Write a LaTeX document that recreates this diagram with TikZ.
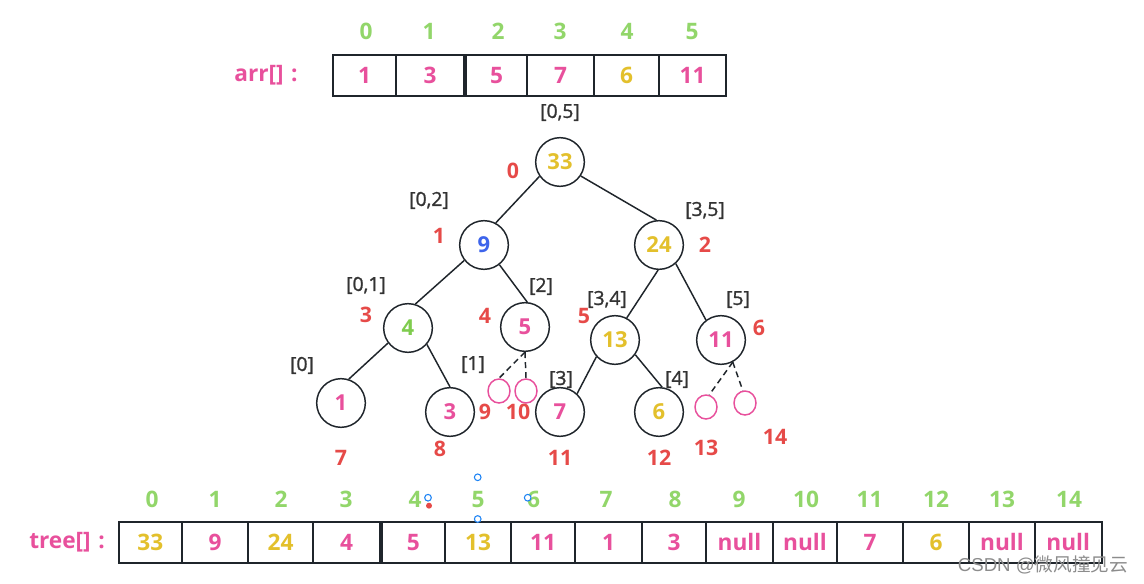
\documentclass[tikz,border=0pt]{standalone}
\usepackage{fontspec}
\setmainfont{Open Sans}
\newfontfamily\cjk{Noto Sans CJK SC}
\newfontfamily\wmfont{Liberation Sans}
\newfontfamily\rngfont{Open Sans}[FakeBold=1.3]
\usetikzlibrary{shapes.geometric}
\definecolor{cpink}{HTML}{E8509C}
\definecolor{cgreen}{HTML}{92D66A}
\definecolor{cgreenb}{HTML}{7FCC4E}
\definecolor{cyellow}{HTML}{E3C02C}
\definecolor{cred}{HTML}{E64A48}
\definecolor{cblue}{HTML}{3D64EB}
\definecolor{cline}{HTML}{1F252B}
\definecolor{cgray}{HTML}{333333}
\definecolor{chandle}{HTML}{1E84F5}
\definecolor{cwm}{HTML}{8C8C8C}
\newcommand\mycell[7]{\node[cellbox, minimum width={(#3-#2)*0.75pt}, minimum height={(#5-#4)*0.75pt}, text=#6] (#1) at ({(#2+#3)/2},{(#4+#5)/2}) {#7};}
\begin{document}
\begin{tikzpicture}[x=0.75pt,y=-0.75pt,
  idx/.style={font=\fontsize{17}{17}\selectfont\bfseries, text=cgreen, text height=12.1pt, text depth=0pt, inner sep=0pt},
  cellbox/.style={draw=cline, line width=1.5pt, inner sep=0pt, font=\fontsize{17}{17}\selectfont\bfseries, text height=12.1pt, text depth=0pt},
  arrlab/.style={font=\fontsize{17}{17}\selectfont\bfseries, text=cpink, inner sep=0pt},
  tnode/.style={circle, draw=cline, line width=1.1pt, minimum size=36.5pt, inner sep=0pt, font=\fontsize{16.5}{16.5}\selectfont\bfseries, text height=11.8pt, text depth=0pt},
  smallc/.style={ellipse, draw=cpink, line width=1.1pt, minimum width=16.5pt, minimum height=18pt, inner sep=0pt},
  redl/.style={font=\fontsize{16}{16}\selectfont\bfseries, text=cred, text height=11.4pt, text depth=0pt, inner sep=0pt},
  rng/.style={font=\fontsize{14.5}{14.5}\selectfont\rngfont, text=cgray, text height=10.4pt, text depth=0pt, inner sep=0pt},
  edge/.style={draw=cline, line width=1.1pt},
  dedge/.style={draw=cline, line width=1.1pt, dash pattern=on 4.5pt off 3pt},
  handle/.style={circle, draw=chandle, fill=white, line width=0.8pt, minimum size=5pt, inner sep=0pt},
  reddot/.style={circle, fill=cred, minimum size=4.5pt, inner sep=0pt}
]
\useasboundingbox[fill=white] (0,0) rectangle (1144,584);

% ---- top array ----
\node[arrlab] (arrl) at (266,75) {arr[]\,\,:};
\node[idx] (ai0) at (366,31) {0};
\node[idx] (ai1) at (429,31) {1};
\node[idx] (ai2) at (498,31) {2};
\node[idx] (ai3) at (560,31) {3};
\node[idx] (ai4) at (627,31) {4};
\node[idx] (ai5) at (692,31) {5};
\mycell{a0}{333}{396}{55}{96}{cpink}{1}
\mycell{a1}{396}{464}{55}{96}{cpink}{3}
\mycell{a2}{466}{527}{55}{96}{cpink}{5}
\mycell{a3}{527}{594}{55}{96}{cpink}{7}
\mycell{a4}{594}{659}{55}{96}{cyellow}{6}
\mycell{a5}{659}{726}{55}{96}{cpink}{11}

% ---- tree ----
\node[tnode, text=cyellow] (n33) at (560,162) {33};
\node[tnode, text=cblue] (n9) at (484,245) {9};
\node[tnode, text=cyellow] (n24) at (659,245) {24};
\node[tnode, text=cgreenb] (n4) at (408,328) {4};
\node[tnode, text=cpink] (n5) at (525,327) {5};
\node[tnode, text=cyellow] (n13) at (615,340) {13};
\node[tnode, text=cpink] (n11) at (721,340) {11};
\node[tnode, text=cpink] (n1) at (341,403) {1};
\node[tnode, text=cpink] (n3) at (450,412) {3};
\node[tnode, text=cpink] (n7) at (560,412) {7};
\node[tnode, text=cyellow] (n6) at (659,412) {6};
\node[smallc] (s9) at (499,391) {};
\node[smallc] (s10) at (526,391) {};
\node[smallc] (s13) at (706,407) {};
\node[smallc] (s14) at (745,403) {};

\draw[edge] (n33.215) -- (n9.62);
\draw[edge] (n33.-34) -- (n24.96);
\draw[edge] (n9.218) -- (n4.73);
\draw[edge] (n9.-52) -- (n5.85);
\draw[edge] (n24.-92) -- (n13.62);
\draw[edge] (n24.-48) -- (n11.127);
\draw[edge] (n4.217) -- (n1.72);
\draw[edge] (n4.-41) -- (n3.90);
\draw[edge] (n13.222) -- (n7.47);
\draw[edge] (n13.-36) -- (n6.83);
\draw[dedge] (n5.south) -- (s9.north);
\draw[dedge] (n5.south) -- (s10.north);
\draw[dedge] (n11.-62) -- (s13.75);
\draw[dedge] (n11.-62) -- (s14.100);

% range labels
\node[rng] (g05) at (560,111) {[0,5]};
\node[rng] (g02) at (429,199) {[0,2]};
\node[rng] (g35) at (705,209) {[3,5]};
\node[rng] (g01) at (366,284) {[0,1]};
\node[rng] (g2) at (541,285) {[2]};
\node[rng] (g34) at (607,298) {[3,4]};
\node[rng] (g5) at (738,298) {[5]};
\node[rng] (g0) at (302,364) {[0]};
\node[rng] (g1) at (473,363) {[1]};
\node[rng] (g3) at (561,378) {[3]};
\node[rng] (g4) at (677,378) {[4]};

% tree index labels
\node[redl] (r0) at (513,171) {0};
\node[redl] (r1) at (439,236) {1};
\node[redl] (r2) at (705,245) {2};
\node[redl] (r3) at (366,315) {3};
\node[redl] (r4) at (485,316) {4};
\node[redl] (r5) at (584,316) {5};
\node[redl] (r6) at (759,328) {6};
\node[redl] (r7) at (341,458) {7};
\node[redl] (r8) at (440,449) {8};
\node[redl] (r9) at (485,412) {9};
\node[redl] (r10) at (518,412) {10};
\node[redl] (r11) at (560,458) {11};
\node[redl] (r12) at (659,458) {12};
\node[redl] (r13) at (706,448) {13};
\node[redl] (r14) at (775,437) {14};

% ---- bottom array ----
\node[arrlab] (treel) at (67,542) {tree[]\,\,:};
\node[idx] (ti0) at (152,499.3) {0};
\node[idx] (ti1) at (215,499.3) {1};
\node[idx] (ti2) at (281,499.3) {2};
\node[idx] (ti3) at (346,499.3) {3};
\node[idx] (ti4) at (415,499.3) {4};
\node[idx] (ti5) at (478,499.3) {5};
\node[idx] (ti6) at (533.5,499.3) {6};
\node[idx] (ti7) at (606,499.3) {7};
\node[idx] (ti8) at (675,499.3) {8};
\node[idx] (ti9) at (739,499.3) {9};
\node[idx] (ti10) at (806,499.3) {10};
\node[idx] (ti11) at (869.5,499.3) {11};
\node[idx] (ti12) at (936,499.3) {12};
\node[idx] (ti13) at (1002,499.3) {13};
\node[idx] (ti14) at (1069,499.3) {14};
\mycell{t0}{118.5}{182}{521.7}{562.7}{cyellow}{33}
\mycell{t1}{182}{248}{521.7}{562.7}{cpink}{9}
\mycell{t2}{248}{313}{521.7}{562.7}{cyellow}{24}
\mycell{t3}{313}{380.3}{521.7}{562.7}{cpink}{4}
\mycell{t4}{381.8}{445}{521.7}{562.7}{cpink}{5}
\mycell{t5}{445}{511}{521.7}{562.7}{cyellow}{13}
\mycell{t6}{511}{575}{521.7}{562.7}{cpink}{11}
\mycell{t7}{575}{642}{521.7}{562.7}{cpink}{1}
\mycell{t8}{642}{706}{521.7}{562.7}{cpink}{3}
\mycell{t9}{706}{773}{521.7}{562.7}{cpink}{null}
\mycell{t10}{773}{837}{521.7}{562.7}{cpink}{null}
\mycell{t11}{837}{903}{521.7}{562.7}{cpink}{7}
\mycell{t12}{903}{969}{521.7}{562.7}{cyellow}{6}
\mycell{t13}{969}{1035}{521.7}{562.7}{cpink}{null}
\mycell{t14}{1035}{1101.5}{521.7}{562.7}{cpink}{null}

% selection handles
\node[reddot] (rd) at (429,505.7) {};
\node[handle] (h1) at (428,497.7) {};
\node[handle] (h2) at (477.7,477.3) {};
\node[handle] (h3) at (477.7,519) {};
\node[handle] (h4) at (527.7,497.7) {};

% watermark
\node[text=cwm, inner sep=0pt, font=\fontsize{14}{14}\selectfont] (wm) at (1043,565) {\wmfont CSDN @\cjk 微风撞见云};
\end{tikzpicture}
\end{document}
